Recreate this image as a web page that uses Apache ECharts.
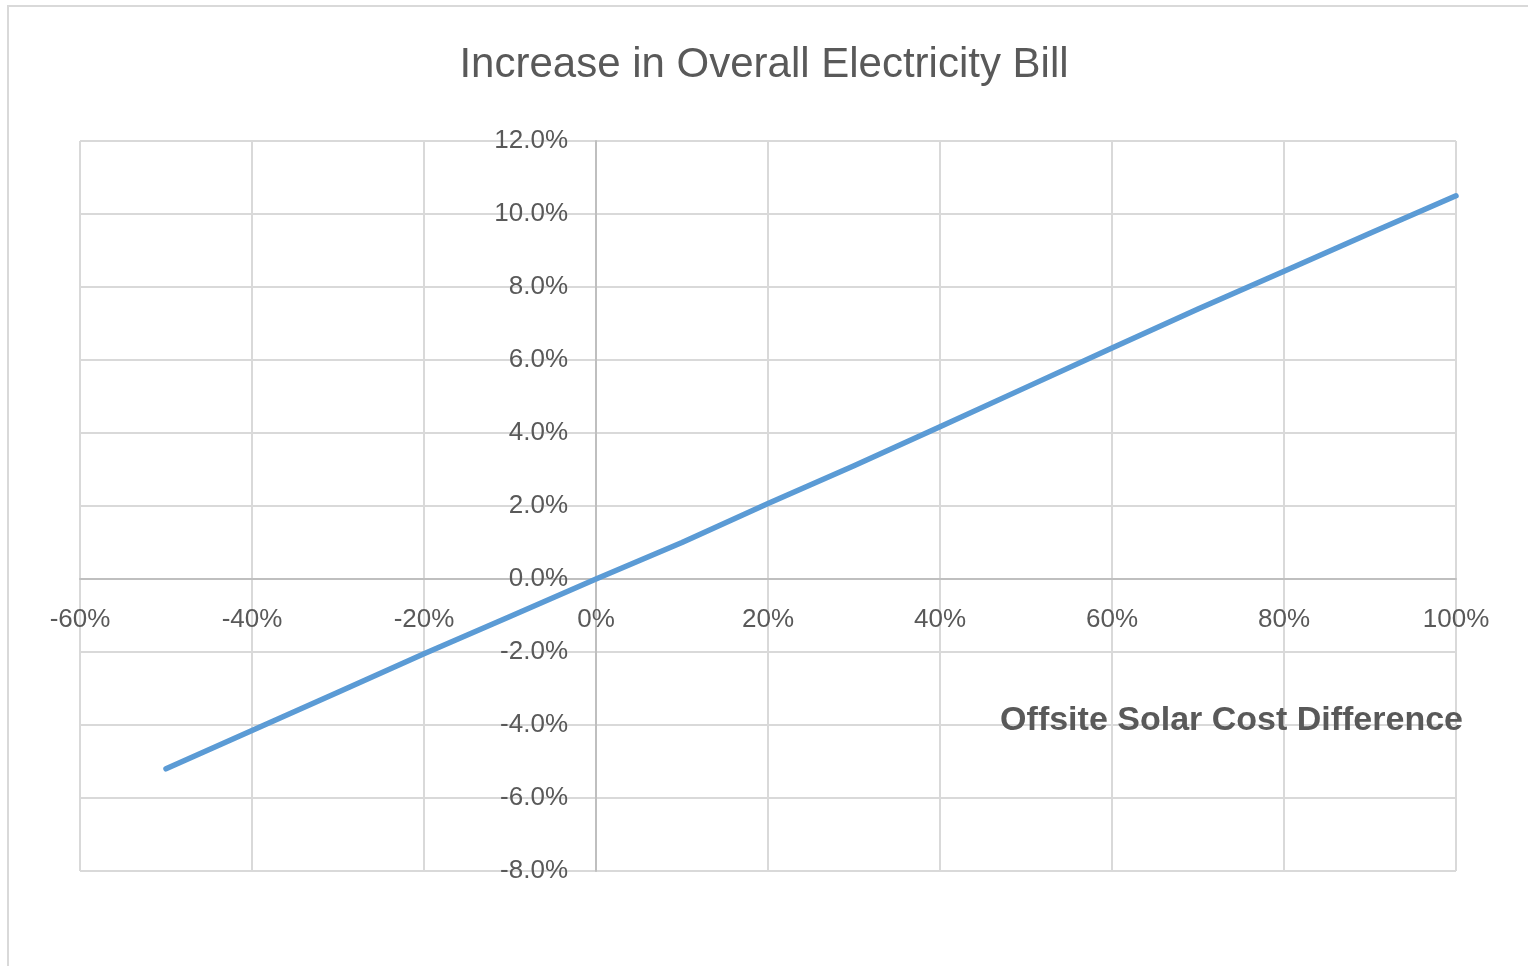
<!DOCTYPE html>
<html>
<head>
<meta charset="utf-8">
<script src="https://cdn.jsdelivr.net/npm/echarts@6/dist/echarts.min.js"></script>
<style>
  html, body { margin: 0; padding: 0; background: #ffffff; }
  #chart { width: 1528px; height: 966px; }
</style>
</head>
<body>
<div id="chart"></div>
<script>
// Offsite solar cost difference (%) and resulting bill increase (%)
const costDifference = [-50, -40, -30, -20, -10, 0, 10, 20, 30, 40, 50, 60, 70, 80, 90, 100];
const billIncrease = [-5.2, -4.15, -3.1, -2.05, -1.03, 0, 1.0, 2.07, 3.1, 4.17, 5.25, 6.33, 7.4, 8.43, 9.47, 10.5];

const chartTitle = 'Increase in Overall Electricity Bill';
const xAxisTitle = 'Offsite Solar Cost Difference';

const FONT = '"Liberation Sans", Arial, sans-serif';
const TEXT = '#595959';
const GRID = '#d9d9d9';
const AXIS = '#bfbfbf';

const X_MIN = -60, X_MAX = 100, Y_MIN = -8, Y_MAX = 12;
const PLOT = { left: 80, right: 72, top: 141, bottom: 95 };
const plotW = 1528 - PLOT.left - PLOT.right;
const plotH = 966 - PLOT.top - PLOT.bottom;
// shift each axis from the plot edge to the value 0 of the other axis
const yAxisShift = plotW * (0 - X_MIN) / (X_MAX - X_MIN);
const xAxisShift = plotH * (0 - Y_MIN) / (Y_MAX - Y_MIN);

const chart = echarts.init(document.getElementById('chart'), null, { renderer: 'canvas' });

chart.setOption({
  backgroundColor: '#ffffff',
  animation: false,
  title: {
    text: chartTitle,
    left: 'center',
    top: 39,
    textStyle: { fontFamily: FONT, fontSize: 42, fontWeight: 'normal', color: TEXT }
  },
  grid: {
    left: PLOT.left, right: PLOT.right, top: PLOT.top, bottom: PLOT.bottom,
    containLabel: false, outerBoundsMode: 'none'
  },
  xAxis: {
    type: 'value',
    position: 'bottom',
    offset: -xAxisShift,
    min: X_MIN, max: X_MAX, interval: 20,
    axisLine: { show: true, onZero: false, lineStyle: { color: AXIS, width: 2 } },
    axisTick: { show: false },
    splitLine: { show: true, lineStyle: { color: GRID, width: 2 } },
    axisLabel: {
      margin: 28,
      fontFamily: FONT, fontSize: 26, color: TEXT,
      formatter: v => v + '%'
    }
  },
  yAxis: {
    type: 'value',
    position: 'left',
    offset: -yAxisShift,
    min: Y_MIN, max: Y_MAX, interval: 2,
    axisLine: { show: true, onZero: false, lineStyle: { color: AXIS, width: 2 } },
    axisTick: { show: false },
    splitLine: { show: true, lineStyle: { color: GRID, width: 2 } },
    axisLabel: {
      margin: 28,
      padding: [5, 0, 0, 0],
      fontFamily: FONT, fontSize: 26, color: TEXT,
      formatter: v => v.toFixed(1) + '%'
    }
  },
  graphic: [
    {
      type: 'rect',
      shape: { x: 8, y: 6, width: 1600, height: 1100 },
      style: { fill: 'none', stroke: GRID, lineWidth: 2 },
      silent: true, z: -10
    },
    {
      type: 'text',
      right: 1528 - 1463,
      top: 704,
      style: {
        text: xAxisTitle,
        fontFamily: FONT, fontSize: 34, fontWeight: 'bold', fill: TEXT
      },
      z: 10
    }
  ],
  series: [{
    type: 'line',
    data: costDifference.map((x, i) => [x, billIncrease[i]]),
    showSymbol: false,
    smooth: false,
    lineStyle: { color: '#5b9bd5', width: 5.5, cap: 'round', join: 'round' },
    z: 5
  }]
});
</script>
</body>
</html>
